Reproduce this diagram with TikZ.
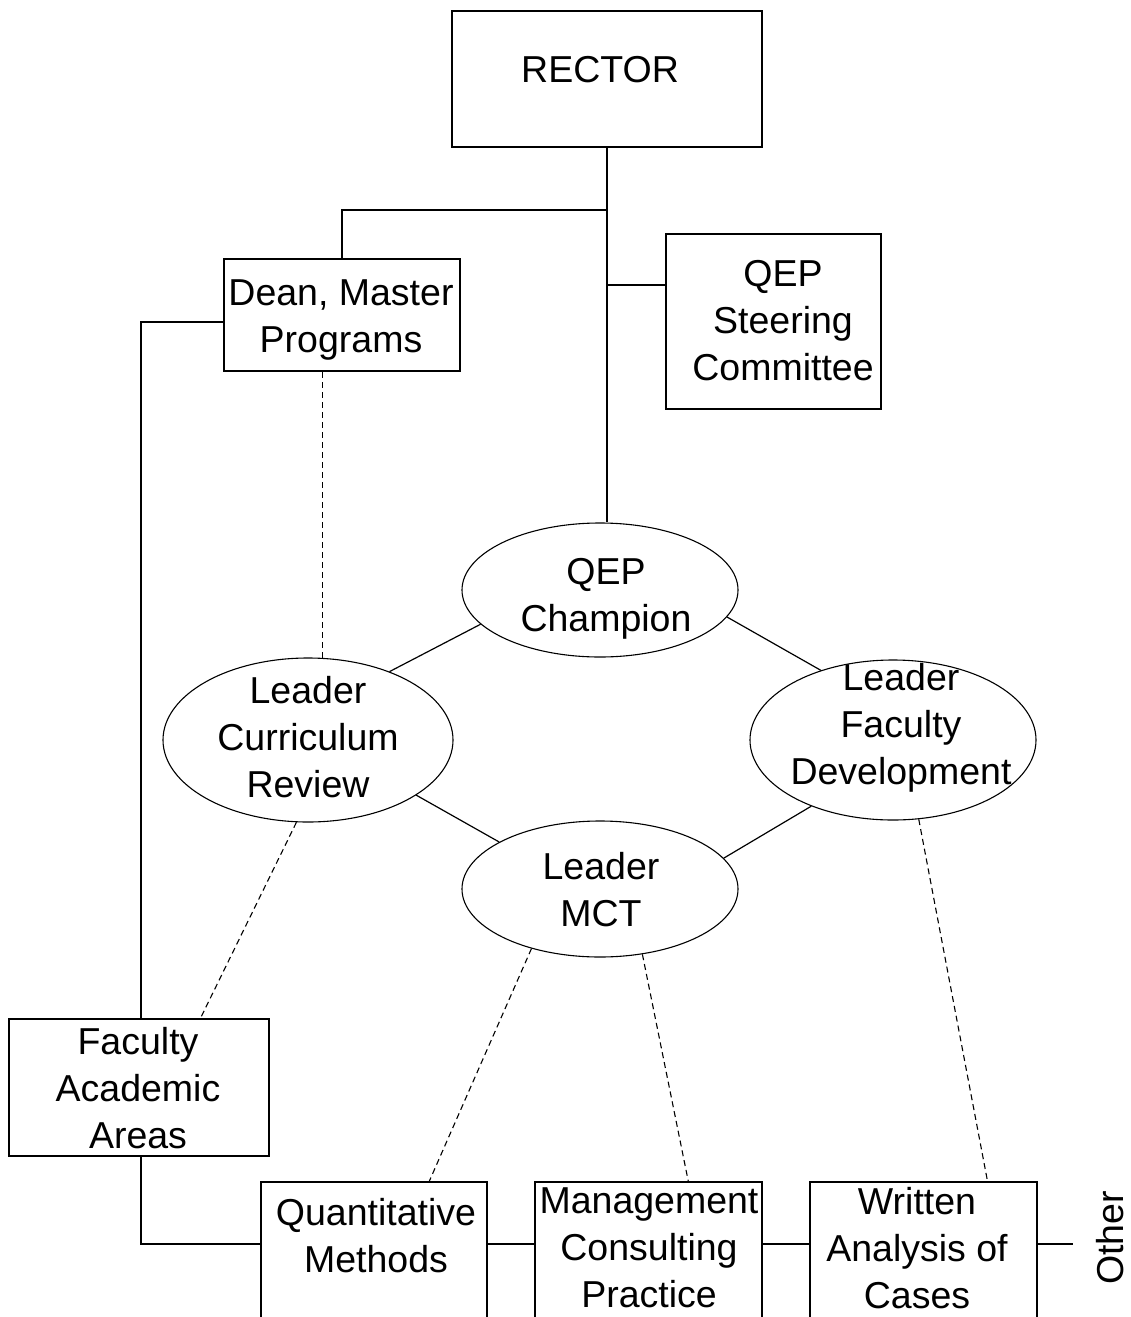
\documentclass[tikz,border=0pt]{standalone}
\usepackage{fontspec}
\setmainfont{Liberation Sans}
\usetikzlibrary{shapes.geometric,calc}
\newcommand\diafont{\fontsize{37.5}{47}\selectfont}
\begin{document}
\begin{tikzpicture}[x=1pt,y=-1pt,
  box/.style={draw, line width=1.6pt, inner sep=0, rectangle},
  oval/.style={draw, line width=1.1pt, ellipse, inner sep=0},
  conn/.style={line width=1.6pt},
  dconn/.style={line width=1.1pt, dash pattern=on 6pt off 4pt},
  txt/.style={anchor=north, inner sep=0, align=center, font=\diafont}]
\useasboundingbox (0,0) rectangle (1131,1317);

% boxes
\node[box, minimum width=310, minimum height=136] (rector) at (607,79) {};
\node[box, minimum width=236, minimum height=112] (dean) at (342,315) {};
\node[box, minimum width=215, minimum height=175] (steer) at (773.5,321.5) {};
\node[box, minimum width=260, minimum height=137] (fac) at (139,1087.5) {};
\node[box, minimum width=226, minimum height=138] (qm) at (374,1251) {};
\node[box, minimum width=227, minimum height=138] (mcp) at (648.5,1251) {};
\node[box, minimum width=227, minimum height=138] (wac) at (923.5,1251) {};

% ellipses
\node[oval, minimum width=276, minimum height=134] (champ) at (600,590) {};
\node[oval, minimum width=290, minimum height=164] (curr) at (308,740) {};
\node[oval, minimum width=286, minimum height=160] (facdev) at (893,740) {};
\node[oval, minimum width=276, minimum height=136] (mct) at (600,889) {};

% junctions
\coordinate (j1) at (607,210);
\coordinate (j2) at (607,285);
\coordinate (j3) at (141,322);
\coordinate (j4) at (141,1244);
\coordinate (othend) at (1073,1244);

% solid connectors
\draw[conn] (rector.south) -- (rector.south |- champ.north);
\draw[conn] (j1) -| (dean.north);
\draw[conn] (j2) -- (j2 -| steer.west);
\draw[conn] (j3 -| dean.west) -- (j3) -- (j3 |- fac.north);
\draw[conn] (j4 |- fac.south) -- (j4) -- (j4 -| qm.west);
\draw[conn] (j4 -| qm.east) -- (j4 -| mcp.west);
\draw[conn] (j4 -| mcp.east) -- (j4 -| wac.west);
\draw[conn] (j4 -| wac.east) -- (othend);

\draw[line width=1.2pt] (champ.196) -- (curr.40);
\draw[line width=1.2pt] (champ.-12) -- (facdev.136);
\draw[line width=1.2pt] (curr.-27) -- (mct.155);
\draw[line width=1.2pt] (mct.14) -- (facdev.219);

% dashed connectors
\draw[dconn] (curr.80) -- (curr.80 |- dean.south);
\draw[dconn] (curr.262) -- ($(fac.north west)!0.735!(fac.north east)$);
\draw[dconn] (mct.221) -- ($(qm.north west)!0.743!(qm.north east)$);
\draw[dconn] (mct.-57) -- ($(mcp.north west)!0.674!(mcp.north east)$);
\draw[dconn] (facdev.-72) -- ($(wac.north west)!0.78!(wac.north east)$);

% texts
\node[txt] (trector) at (600,49.1) {\strut RECTOR};
\node[txt] (tdean) at (341,272.1) {\strut Dean, Master\\Programs};
\node[txt] (tsteer) at (783,253.1) {\strut QEP\\Steering\\Committee};
\node[txt] (tchamp) at (606,551.1) {\strut QEP\\Champion};
\node[txt] (tcurr) at (308,670.1) {\strut Leader\\Curriculum\\Review};
\node[txt] (tfacdev) at (901,657.1) {\strut Leader\\Faculty\\Development};
\node[txt] (tmct) at (601,846.1) {\strut Leader\\MCT};
\node[txt] (tfac) at (138,1021.1) {\strut Faculty\\Academic\\Areas};
\node[txt] (tqm) at (376,1192.1) {\strut Quantitative\\Methods};
\node[txt] (tmcp) at (649,1180.1) {\strut Management\\Consulting\\Practice};
\node[txt] (twac) at (917,1181.1) {\strut Written\\Analysis of\\Cases};
\node[font=\diafont, rotate=90, anchor=base, inner sep=0] (other) at (1123,1238) {Other};
\end{tikzpicture}
\end{document}
